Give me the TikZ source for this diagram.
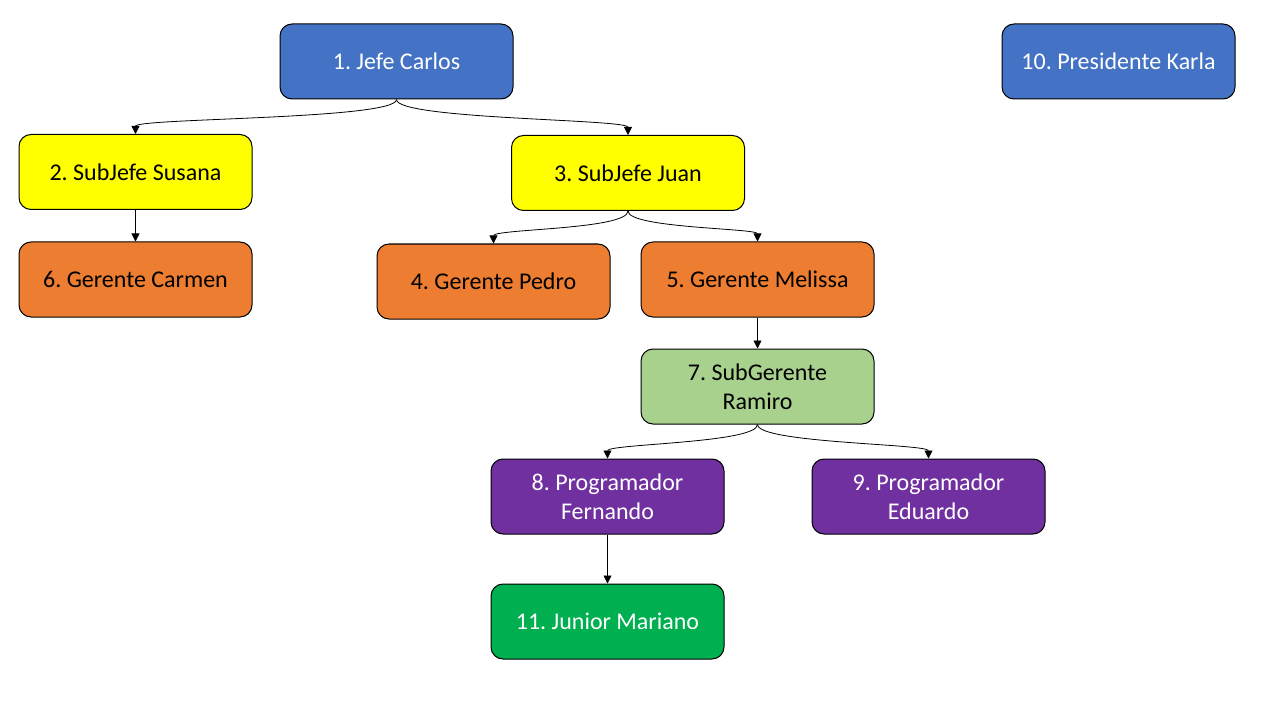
\documentclass[tikz,border=0pt]{standalone}
\usepackage{fontspec}
\setmainfont{Carlito}
\frenchspacing
\usetikzlibrary{arrows.meta}
\definecolor{cblue}{HTML}{4472C4}
\definecolor{cyellow}{HTML}{FFFF00}
\definecolor{corange}{HTML}{ED7D31}
\definecolor{clgreen}{HTML}{A9D18E}
\definecolor{cpurple}{HTML}{7030A0}
\definecolor{cgreen}{HTML}{00B050}
\begin{document}
\begin{tikzpicture}[x=0.75pt,y=-0.75pt,
  box/.style={draw=black,line width=0.75pt,rounded corners=9pt,minimum width=174.75pt,minimum height=56.25pt,align=center,font=\fontsize{18}{21.6}\selectfont\frenchspacing,inner sep=2pt},
  wbox/.style={box,text=white},
  arr/.style={-{Triangle[length=6pt,width=6pt]},line width=0.6pt,black}]
\useasboundingbox (0,0) rectangle (1280,720);
\node[wbox,fill=cblue] (n1) at (396.5,61.5) {1. Jefe Carlos};
\node[wbox,fill=cblue] (n10) at (1118.5,61.5) {10. Presidente Karla};
\node[box,fill=cyellow] (n2) at (135.5,172) {2. SubJefe Susana};
\node[box,fill=cyellow] (n3) at (628,173) {3. SubJefe Juan};
\node[box,fill=corange] (n6) at (135.5,279.5) {6. Gerente Carmen};
\node[box,fill=corange] (n4) at (493.5,281.5) {4. Gerente Pedro};
\node[box,fill=corange] (n5) at (757.5,279.5) {5. Gerente Melissa};
\node[box,fill=clgreen] (n7) at (757.5,386.5) {7. SubGerente\\Ramiro};
\node[wbox,fill=cpurple] (n8) at (607.5,496.5) {8. Programador\\Fernando};
\node[wbox,fill=cpurple] (n9) at (928.5,496.5) {9. Programador\\Eduardo};
\node[wbox,fill=cgreen] (n11) at (607.5,621.5) {11. Junior Mariano};
\draw[arr] (n1.south) .. controls ([yshift=-15pt]n1.south) and ([yshift=12pt]n2.north) .. (n2.north);
\draw[arr] (n1.south) .. controls ([yshift=-15pt]n1.south) and ([yshift=12pt]n3.north) .. (n3.north);
\draw[arr] (n3.south) .. controls ([yshift=-14pt]n3.south) and ([yshift=11pt]n4.north) .. (n4.north);
\draw[arr] (n3.south) .. controls ([yshift=-13pt]n3.south) and ([yshift=10pt]n5.north) .. (n5.north);
\draw[arr] (n7.south) .. controls ([yshift=-14pt]n7.south) and ([yshift=11pt]n8.north) .. (n8.north);
\draw[arr] (n7.south) .. controls ([yshift=-14pt]n7.south) and ([yshift=11pt]n9.north) .. (n9.north);
\draw[arr] (n2.south) -- (n6.north);
\draw[arr] (n5.south) -- (n7.north);
\draw[arr] (n8.south) -- (n11.north);
\end{tikzpicture}
\end{document}
